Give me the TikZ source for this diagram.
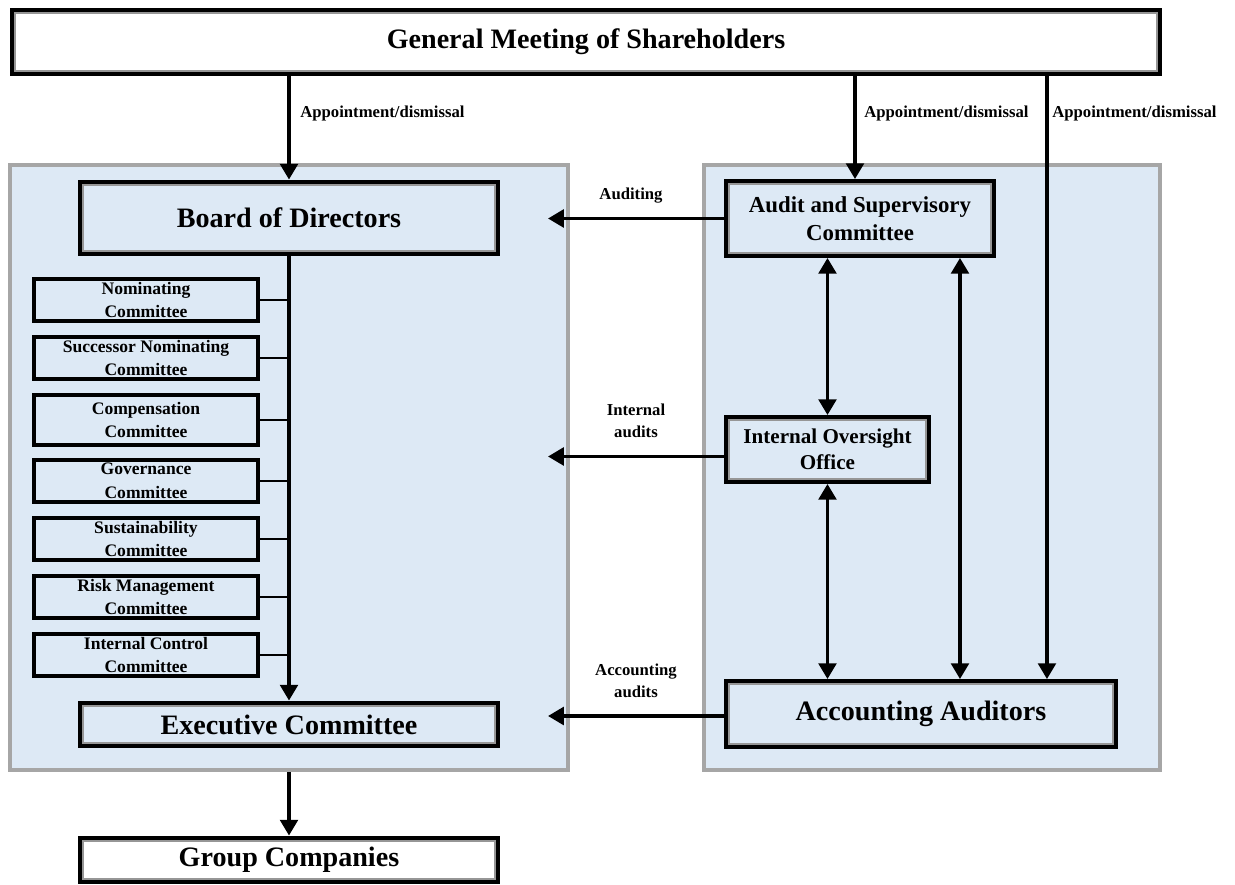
\documentclass[tikz,border=0pt]{standalone}
\usepackage{fontspec}
\setmainfont{Liberation Serif}
\usetikzlibrary{arrows.meta}

\definecolor{panelblue}{RGB}{221,233,245}
\definecolor{panelgray}{RGB}{166,166,166}
\definecolor{framegray}{RGB}{150,150,150}

\tikzset{
  panel/.style = {draw = panelgray, line width = 2.4pt, fill = panelblue, inner sep = 0pt},
  mainbox/.style = {draw, line width = 3.3pt, fill = panelblue, inner sep = 0pt, align = center,
    font = \bfseries\fontsize{16}{19}\selectfont},
  combox/.style = {draw, line width = 2.5pt, fill = panelblue, inner sep = 0pt, align = center,
    minimum width = 4.48cm, minimum height = 0.84cm, font = \bfseries\fontsize{10}{13.6}\selectfont},
  lbl/.style = {font = \bfseries\fontsize{9.5}{12.5}\selectfont, align = center, inner sep = 0pt},
  arr/.style = {-{Triangle[length = 9pt, width = 10pt]}, line width = 2.1pt},
  dblarr/.style = {{Triangle[length = 9pt, width = 10pt]}-{Triangle[length = 9pt, width = 10pt]}, line width = 2.1pt},
  tie/.style = {line width = 0.7pt},
  innergray/.style = {draw = framegray, line width = 1pt}
}
\newcommand{\innerframe}[1]{%
  \draw[innergray] ([shift = {(2.9pt, -2.9pt)}]#1.north west) rectangle ([shift = {(-2.9pt, 2.9pt)}]#1.south east);}

\begin{document}
\begin{tikzpicture}[x = 0.02cm, y = -0.02cm]
\useasboundingbox (0, 0) rectangle (1235, 885);
%\draw[very thin, color = gray](0, 0) grid[step = 50] (1235, 885);

% panels
\node[panel, minimum width = 11.16cm, minimum height = 12.1cm] (lpanel) at (289, 467.5) {};
\node[panel, minimum width = 9.12cm, minimum height = 12.1cm] (rpanel) at (932, 467.5) {};

% top and bottom
\node[mainbox, fill = white, minimum width = 22.94cm, minimum height = 1.26cm] (gms) at (586, 42) {General Meeting of Shareholders};
\innerframe{gms}
\node[mainbox, fill = white, minimum width = 8.34cm, minimum height = 0.86cm] (gc) at (289, 860) {Group Companies};
\innerframe{gc}

% left side
\node[mainbox, minimum width = 8.34cm, minimum height = 1.42cm] (bod) at (289, 218) {Board of Directors};
\innerframe{bod}
\node[mainbox, minimum width = 8.34cm, minimum height = 0.84cm] (exec) at (289, 724.5) {Executive Committee};
\innerframe{exec}

\node[combox] (nom) at (146, 300) {Nominating\\Committee};
\node[combox] (succ) at (146, 358) {Successor Nominating\\Committee};
\node[combox, minimum height = 1.0cm] (comp) at (146, 420) {Compensation\\Committee};
\node[combox] (gov) at (146, 481) {Governance\\Committee};
\node[combox] (sust) at (146, 539) {Sustainability\\Committee};
\node[combox] (risk) at (146, 597) {Risk Management\\Committee};
\node[combox] (ictl) at (146, 655) {Internal Control\\Committee};

\foreach \c in {nom, succ, comp, gov, sust, risk, ictl}
  \draw[tie] (\c.east) -- (\c.east -| bod.south);
\draw[arr] (bod.south) -- (exec.north);

% right side
\node[mainbox, minimum width = 5.32cm, minimum height = 1.46cm,
  font = \bfseries\fontsize{13}{16}\selectfont] (asc) at (860, 218.5) {Audit and Supervisory\\Committee};
\innerframe{asc}
\node[mainbox, minimum width = 4.02cm, minimum height = 1.26cm,
  font = \bfseries\fontsize{12}{14.5}\selectfont] (ioo) at (827.5, 449.5) {Internal Oversight\\Office};
\innerframe{ioo}
\node[mainbox, minimum width = 7.76cm, minimum height = 1.28cm] (aa) at (921, 714) {Accounting Auditors};
\innerframe{aa}

% appointment
\draw[arr] (bod.north |- gms.south) -- (bod.north);
\draw[arr] ([xshift = -0.1cm]asc.north |- gms.south) -- ([xshift = -0.1cm]asc.north);
\draw[arr] ([xshift = 2.52cm]aa.north |- gms.south) -- ([xshift = 2.52cm]aa.north);
\node[lbl, anchor = west] (app1) at (300, 113) {Appointment/dismissal};
\node[lbl, anchor = west] (app2) at (864, 113) {Appointment/dismissal};
\node[lbl, anchor = west] (app3) at (1052, 113) {Appointment/dismissal};

% audits
\coordinate (tipx) at (548, 0);
\draw[arr] (asc.west) -- (asc.west -| tipx);
\draw[arr] ([yshift = -0.14cm]ioo.west) -- ([yshift = -0.14cm]ioo.west -| tipx);
\draw[arr] ([yshift = -0.04cm]aa.west) -- ([yshift = -0.04cm]aa.west -| tipx);
\node[lbl] (l1) at (631, 196) {Auditing};
\node[lbl] (l2) at (636, 421) {Internal\\audits};
\node[lbl] (l3) at (636, 681) {Accounting\\audits};

\draw[dblarr] (ioo.north |- asc.south) -- (ioo.north);
\draw[dblarr] (ioo.south) -- (ioo.south |- aa.north);
\draw[dblarr] ([xshift = 2cm]asc.south) -- ([xshift = 2cm]asc.south |- aa.north);

\draw[arr] (exec.south |- lpanel.south) -- (gc.north);
\end{tikzpicture}
\end{document}
